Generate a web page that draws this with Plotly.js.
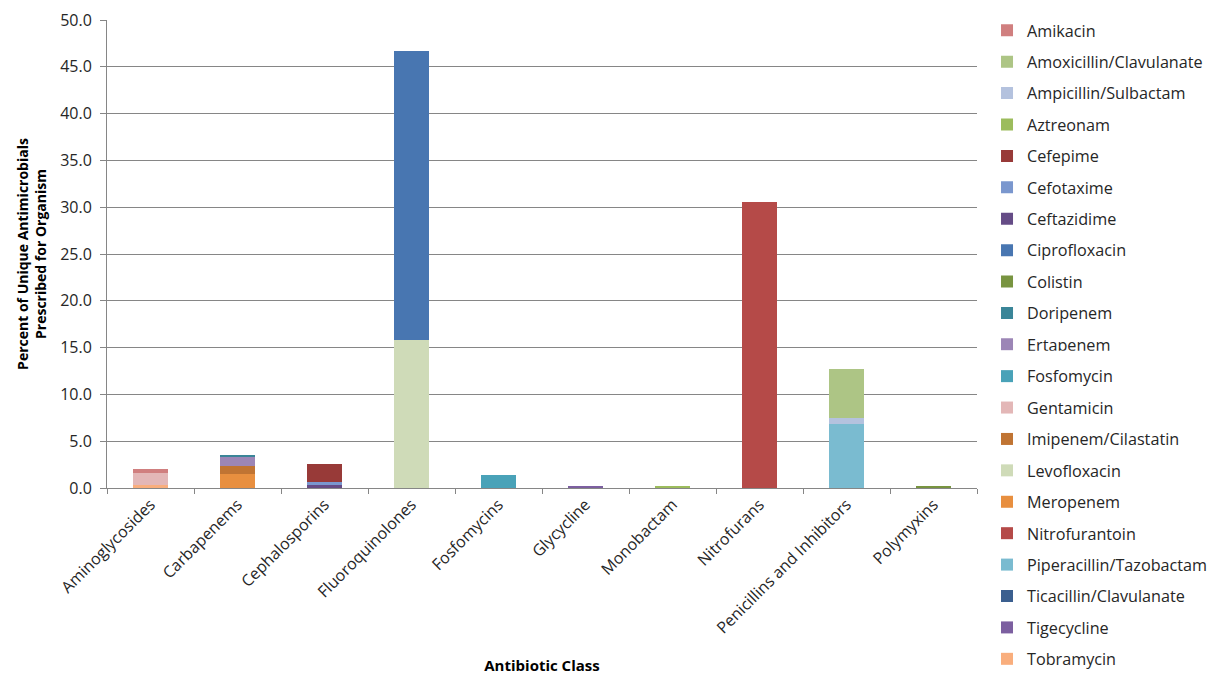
<!DOCTYPE html>
<html>
<head>
<meta charset="utf-8">
<script src="https://cdn.plot.ly/plotly-3.0.1.min.js"></script>
<style>html,body{margin:0;padding:0;background:#fff;}#chart{width:1213px;height:675px;}</style>
</head>
<body>
<div id="chart"></div>
<script>
// Categories (x axis)
var categories = ["Aminoglycosides","Carbapenems","Cephalosporins","Fluoroquinolones","Fosfomycins","Glycycline","Monobactam","Nitrofurans","Penicillins and Inhibitors","Polymyxins"];

// Series values (percent), one per category, in category order
var amikacin        = [0.45,0,0,0,0,0,0,0,0,0];
var amoxicillinClav = [0,0,0,0,0,0,0,0,5.2,0];
var ampicillinSul   = [0,0,0,0,0,0,0,0,0.7,0];
var aztreonam       = [0,0,0,0,0,0,0.2,0,0,0];
var cefepime        = [0,0,2.0,0,0,0,0,0,0,0];
var cefotaxime      = [0,0,0.3,0,0,0,0,0,0,0];
var ceftazidime     = [0,0,0.3,0,0,0,0,0,0,0];
var ciprofloxacin   = [0,0,0,30.9,0,0,0,0,0,0];
var colistin        = [0,0,0,0,0,0,0,0,0,0.2];
var doripenem       = [0,0.2,0,0,0,0,0,0,0,0];
var ertapenem       = [0,1.0,0,0,0,0,0,0,0,0];
var fosfomycin      = [0,0,0,0,1.4,0,0,0,0,0];
var gentamicin      = [1.25,0,0,0,0,0,0,0,0,0];
var imipenemCil     = [0,0.8,0,0,0,0,0,0,0,0];
var levofloxacin    = [0,0,0,15.8,0,0,0,0,0,0];
var meropenem       = [0,1.5,0,0,0,0,0,0,0,0];
var nitrofurantoin  = [0,0,0,0,0,0,0,30.6,0,0];
var piperacillinTaz = [0,0,0,0,0,0,0,0,6.8,0];
var ticacillinClav  = [0,0,0,0,0,0,0,0,0,0];
var tigecycline     = [0,0,0,0,0,0.2,0,0,0,0];
var tobramycin      = [0.3,0,0,0,0,0,0,0,0,0];

// Series names (legend labels), alphabetical, with their value arrays
var seriesNames = ["Amikacin","Amoxicillin/Clavulanate","Ampicillin/Sulbactam","Aztreonam","Cefepime","Cefotaxime","Ceftazidime","Ciprofloxacin","Colistin","Doripenem","Ertapenem","Fosfomycin","Gentamicin","Imipenem/Cilastatin","Levofloxacin","Meropenem","Nitrofurantoin","Piperacillin/Tazobactam","Ticacillin/Clavulanate","Tigecycline","Tobramycin"];
var seriesValues = [amikacin,amoxicillinClav,ampicillinSul,aztreonam,cefepime,cefotaxime,ceftazidime,ciprofloxacin,colistin,doripenem,ertapenem,fosfomycin,gentamicin,imipenemCil,levofloxacin,meropenem,nitrofurantoin,piperacillinTaz,ticacillinClav,tigecycline,tobramycin];
var seriesColors = ["#D07F7F","#ADC585","#B4C2DE","#9CBC5C","#983A38","#7A97CE","#654C86","#4876B1","#789440","#3A8598","#9C86B6","#49A2B8","#E3B7B7","#C07433","#CFDBB8","#E88F3F","#B54A48","#7ABBD0","#3B5F8F","#7C5FA0","#F9AE7D"];

// Stack bottom-up in reverse alphabetical order (as in the original); legend stays alphabetical,
// split over two stacked legend boxes so the long column fits the page height
var traces = [];
for (var i = seriesNames.length - 1; i >= 0; i--) {
  traces.push({
    type: 'bar',
    name: seriesNames[i],
    x: categories,
    y: seriesValues[i],
    marker: {color: seriesColors[i], line: {width: 0}},
    legendgroup: 'g' + (100 + i),
    legendrank: i + 1,
    legend: i < 11 ? 'legend' : 'legend2'
  });
}

var fontFam = '"Open Sans", "Noto Sans", sans-serif';
var legendBase = {
  xref: 'container', yref: 'container',
  x: 0.8137, xanchor: 'left', yanchor: 'top',
  traceorder: 'grouped',
  tracegroupgap: 7.35,
  font: {family: fontFam, size: 16.2, color: '#262626'},
  itemwidth: 30,
  bgcolor: 'rgba(0,0,0,0)'
};
var layout = {
  width: 1213, height: 675,
  paper_bgcolor: '#fff', plot_bgcolor: '#fff',
  barmode: 'stack',
  bargap: 0.6,
  margin: {l: 107, r: 236, t: 20, b: 187},
  font: {family: fontFam, size: 15, color: '#262626'},
  showlegend: true,
  legend: Object.assign({}, legendBase, {y: 0.9804}),
  legend2: Object.assign({}, legendBase, {y: 0.468}),
  xaxis: {
    type: 'category',
    tickson: 'boundaries',
    ticks: 'outside', ticklen: 5, tickcolor: '#868686',
    showline: true, linecolor: '#868686', linewidth: 1,
    showgrid: false,
    tickangle: -45,
    tickfont: {family: fontFam, size: 16, color: '#262626'},
    title: {text: '<b>Antibiotic Class</b>', font: {family: fontFam, size: 15, color: '#000'}, standoff: 25}
  },
  yaxis: {
    range: [0, 50], dtick: 5, tick0: 0,
    tickformat: '.1f',
    ticks: 'outside', ticklen: 6, tickcolor: '#868686',
    ticklabelstandoff: 5,
    showline: true, linecolor: '#868686', linewidth: 1,
    showgrid: true, gridcolor: '#868686', gridwidth: 1,
    zeroline: false,
    tickfont: {family: fontFam, size: 16, color: '#262626'},
    title: {text: '<b>Percent of Unique Antimicrobials<br>Prescribed for Organism</b>', font: {family: fontFam, size: 14, color: '#000'}, standoff: 10}
  }
};

Plotly.newPlot('chart', traces, layout, {displayModeBar: false, staticPlot: true});
</script>
</body>
</html>
